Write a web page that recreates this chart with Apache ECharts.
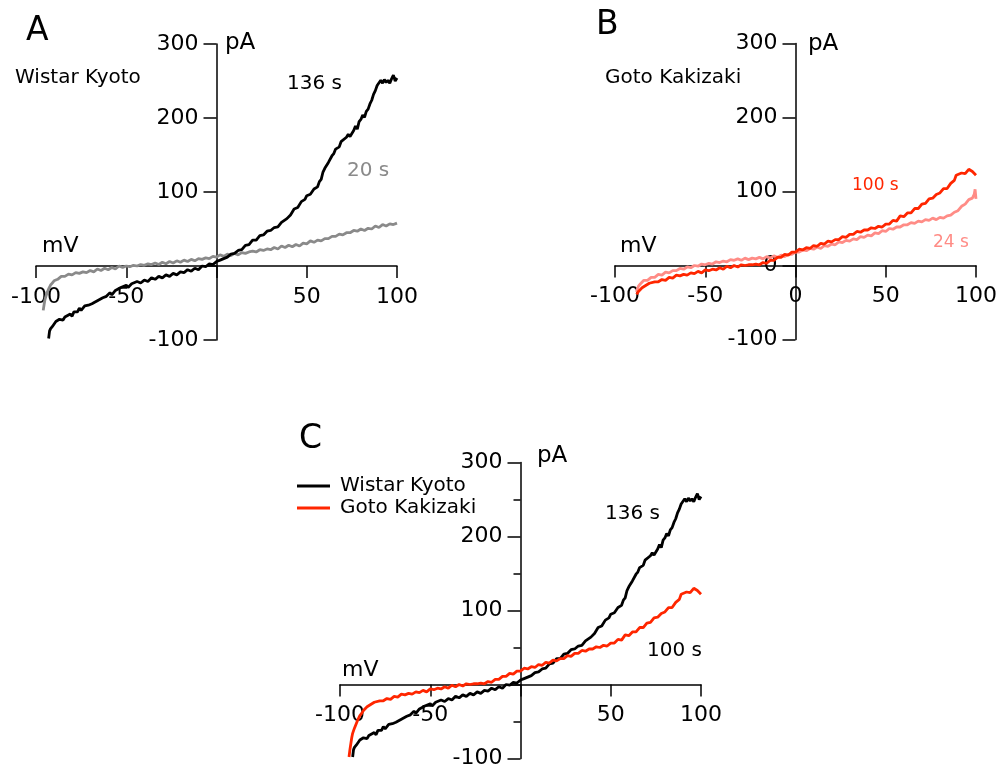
<!DOCTYPE html>
<html><head><meta charset="utf-8">
<script src="https://cdn.jsdelivr.net/npm/echarts@6/dist/echarts.min.js"></script>
<style>html,body{margin:0;padding:0;background:#fff}#c{width:999px;height:768px}</style>
</head><body><div id="c"></div>
<script>
const FONT = '"DejaVu Sans", sans-serif';

// Voltage axis (mV) and current axis (pA) ranges / tick steps
const mvRange = [-100, 100], mvStep = 50;
const paRange = [-100, 300], paStep = 100;

// Wistar Kyoto, 136 s  [mV, pA]
const wky136 = [[-93,-98],[-92.5,-88],[-92,-85],[-91,-82],[-89,-75],[-88,-77],[-87,-72],[-85,-73],[-84,-69],[-83,-71],[-81,-65],[-80,-68],[-79,-62],[-77,-62],[-76,-57],[-75,-60],[-73,-54],[-72,-56],[-71,-53],[-69,-51],[-68,-49],[-66,-47],[-65,-45],[-63,-43],[-62,-41],[-61,-41],[-59,-36],[-58,-39],[-56,-33],[-55,-35],[-53,-29],[-52,-31],[-50,-26],[-49,-29],[-47,-24],[-46,-26],[-44,-21],[-42,-23],[-40,-19],[-38,-21],[-36,-16],[-34,-18],[-32,-14],[-30,-16],[-28,-12],[-26,-14],[-24,-10],[-22,-12],[-20,-8],[-18,-9],[-16,-5],[-14,-7],[-12,-3],[-10,-5],[-8,0],[-6,-1],[-4,3],[-2,2],[0,6],[2,8],[4,10],[6,12],[8,16],[10,17],[12,21],[14,22],[16,28],[18,29],[20,35],[22,35],[24,41],[26,42],[28,47],[30,48],[32,52],[34,53],[36,59],[37,60],[39,64],[41,69],[43,77],[45,79],[47,87],[49,90],[50,95],[52,97],[54,104],[56,107],[57,114],[58,117],[59,127],[60,132],[62,140],[63,142],[64,149],[65,152],[66,158],[68,161],[69,168],[70,169],[72,174],[73,178],[74,175],[76,183],[77,189],[78,185],[79,195],[80,198],[81,204],[82,201],[83,209],[84,212],[85,219],[86,224],[87,232],[88,237],[89,244],[90,246],[91,251],[92,247],[93,252],[94,248],[95,251],[96,247],[97,253],[98,258],[99,250],[100,254]];

// Wistar Kyoto, 20 s
const wky20 = [[-96,-60],[-95.5,-52],[-95,-45],[-94,-37],[-93,-31],[-92,-26],[-91,-23],[-90,-20],[-88,-18],[-86,-14],[-84,-14],[-82,-11],[-80,-12],[-78,-9],[-76,-10],[-74,-8],[-72,-9],[-70,-6],[-68,-8],[-66,-4],[-64,-6],[-62,-3],[-60,-5],[-58,-2],[-56,-4],[-54,0],[-52,-2],[-50,0],[-48,-1],[-46,1],[-44,0],[-42,2],[-40,1],[-38,3],[-36,2],[-34,4],[-32,2],[-30,5],[-28,3],[-26,6],[-24,4],[-22,7],[-20,5],[-18,8],[-16,6],[-14,9],[-12,7],[-10,10],[-8,9],[-6,11],[-4,10],[-2,13],[0,12],[2,15],[4,13],[6,16],[8,14],[10,17],[12,15],[14,18],[16,17],[18,19],[20,20],[22,19],[24,22],[26,21],[28,23],[30,22],[32,25],[34,23],[36,27],[38,25],[40,28],[42,26],[44,29],[46,27],[48,31],[50,30],[52,34],[54,32],[56,35],[58,34],[60,37],[62,37],[64,40],[66,40],[68,43],[70,42],[72,45],[74,45],[76,48],[78,47],[80,50],[82,48],[84,51],[86,50],[88,54],[90,52],[92,56],[94,54],[96,57],[98,56],[100,58]];

// Goto Kakizaki, 100 s
const gk100 = [[-95,-98],[-94.5,-88],[-94,-80],[-93.5,-72],[-93,-66],[-92,-59],[-91,-53],[-90,-47],[-89,-42],[-88,-39],[-87,-35],[-86,-34],[-85,-30],[-84,-30],[-83,-27],[-82,-27],[-81,-24],[-80,-25],[-78,-22],[-76,-22],[-74,-19],[-72,-20],[-70,-16],[-68,-17],[-66,-13],[-64,-14],[-62,-12],[-60,-13],[-58,-10],[-56,-11],[-54,-8],[-52,-10],[-50,-6],[-48,-7],[-46,-5],[-44,-6],[-42,-3],[-40,-5],[-38,-1],[-36,-3],[-34,0],[-32,-2],[-30,1],[-28,0],[-26,1],[-24,1],[-22,2],[-20,1],[-18,4],[-16,3],[-14,7],[-12,7],[-10,11],[-8,11],[-6,15],[-4,14],[-2,18],[0,18],[2,22],[4,21],[6,24],[8,23],[10,27],[12,26],[14,30],[16,29],[18,33],[20,32],[22,35],[24,35],[26,39],[28,38],[30,42],[32,42],[34,46],[36,45],[38,48],[40,48],[42,51],[44,50],[46,53],[48,52],[50,56],[52,56],[54,61],[56,60],[58,67],[60,66],[62,71],[64,71],[66,77],[68,77],[70,83],[72,84],[74,90],[76,91],[78,96],[80,98],[82,104],[84,104],[86,111],[88,115],[89,122],[90,121],[92,125],[94,124],[96,130],[97,131],[98,127],[99,125],[100,122]];

// Goto Kakizaki, 24 s
const gk24 = [[-88,-36],[-87.5,-31],[-87,-28],[-86,-25],[-85,-24],[-84,-20],[-82,-20],[-80,-16],[-78,-16],[-76,-12],[-74,-13],[-72,-9],[-70,-10],[-68,-7],[-66,-7],[-64,-4],[-62,-5],[-60,-2],[-58,-3],[-56,0],[-54,-1],[-52,2],[-50,1],[-48,3],[-46,2],[-44,5],[-42,4],[-40,6],[-38,5],[-36,8],[-34,7],[-32,9],[-30,7],[-28,10],[-26,8],[-24,10],[-22,9],[-20,11],[-18,9],[-16,12],[-14,10],[-12,13],[-10,11],[-8,14],[-6,12],[-4,15],[-2,15],[0,18],[2,18],[4,21],[6,20],[8,23],[10,22],[12,25],[14,23],[16,27],[18,26],[20,29],[22,28],[24,32],[26,31],[28,34],[30,33],[32,36],[34,35],[36,39],[38,38],[40,41],[42,40],[44,44],[46,43],[48,47],[50,46],[52,50],[54,49],[56,52],[58,52],[60,55],[62,55],[64,58],[66,57],[68,60],[70,59],[72,62],[74,61],[76,64],[78,62],[80,65],[82,64],[84,67],[86,68],[88,72],[90,74],[92,80],[94,83],[96,89],[98,91],[99,96],[99.5,103],[100,90]];

const panelBStart = -88; // panel B trace starts here

const C_BLACK = '#000000', C_GRAY = '#8a8a8a', C_RED = '#ff2600', C_PINK = '#ff8c86';

// panel grids (pixel boxes of the full -100..100 mV / -100..300 pA ranges)
const grids = [
  { left: 36, top: 44, width: 361, height: 296 },
  { left: 615, top: 43.5, width: 361, height: 296 },
  { left: 340, top: 462.5, width: 361, height: 296 }
];
// offsets so that each axis sits on the other's zero
function zeroX(g) { return g.width * (0 - mvRange[0]) / (mvRange[1] - mvRange[0]); }
function zeroYfromBottom(g) { return g.height * (0 - paRange[0]) / (paRange[1] - paRange[0]); }

function xAx(gi, hideZero) {
  return { gridIndex: gi, type: 'value', min: mvRange[0], max: mvRange[1], interval: mvStep,
    position: 'bottom', offset: -zeroYfromBottom(grids[gi]),
    axisLine: { onZero: false, lineStyle: { color: '#000', width: 1.5 } },
    axisTick: { show: true, length: 12, lineStyle: { color: '#000', width: 1.5 } },
    splitLine: { show: false },
    axisLabel: { color: '#000', fontSize: 22, fontFamily: FONT, margin: 20,
      formatter: v => (hideZero && v === 0) ? '' : String(v) } };
}
function yAx(gi, hideZero, minor) {
  return { gridIndex: gi, type: 'value', min: paRange[0], max: paRange[1], interval: paStep,
    position: 'left', offset: -zeroX(grids[gi]),
    axisLine: { onZero: false, lineStyle: { color: '#000', width: 1.5 } },
    axisTick: { show: true, length: 13, lineStyle: { color: '#000', width: 1.5 } },
    minorTick: { show: !!minor, splitNumber: 2, length: 7, lineStyle: { color: '#000', width: 1.5 } },
    splitLine: { show: false },
    axisLabel: { color: '#000', fontSize: 22, fontFamily: FONT, margin: 18,
      formatter: v => (hideZero && v === 0) ? '' : String(v) } };
}
function line(name, xi, data, color) {
  return { name, type: 'line', xAxisIndex: xi, yAxisIndex: xi, data, showSymbol: false, symbol: 'none',
    lineStyle: { color, width: 2.8 }, itemStyle: { color }, clip: false, z: 3 };
}
function txt(text, x, y, size, color) {
  return { type: 'text', x, y, style: { text, fill: color || '#000', font: size + 'px ' + FONT,
    align: 'left', verticalAlign: 'middle', textAlign: 'left', textVerticalAlign: 'middle' } };
}

const chart = echarts.init(document.getElementById('c'));
chart.setOption({
  animation: false,
  backgroundColor: '#fff',
  grid: grids.map(g => Object.assign({ outerBoundsMode: 'none', containLabel: false }, g)),
  xAxis: [xAx(0, true), xAx(1, false), xAx(2, true)],
  yAxis: [yAx(0, true, false), yAx(1, false, false), yAx(2, true, true)],
  legend: {
    data: [{ name: 'Wistar Kyoto', icon: 'rect' }, { name: 'Goto Kakizaki', icon: 'rect' }],
    orient: 'vertical', left: 297, top: 475, padding: 0, itemGap: 0,
    itemWidth: 33, itemHeight: 3, selectedMode: false,
    textStyle: { color: '#000', fontSize: 20, fontFamily: FONT, lineHeight: 22, padding: [0, 0, 0, 5] }
  },
  series: [
    line('WKY 20 s', 0, wky20, C_GRAY),
    line('WKY 136 s', 0, wky136, C_BLACK),
    line('GK 24 s', 1, gk24, C_PINK),
    line('GK 100 s', 1, gk100.filter(p => p[0] >= panelBStart), C_RED),
    line('Wistar Kyoto', 2, wky136, C_BLACK),
    line('Goto Kakizaki', 2, gk100, C_RED)
  ],
  graphic: [
    txt('A', 26, 31, 33), txt('B', 596, 25, 33), txt('C', 299, 439, 33),
    txt('Wistar Kyoto', 15, 78, 20), txt('Goto Kakizaki', 605, 78, 20),
    txt('pA', 225, 43, 23), txt('pA', 808, 44, 23), txt('pA', 537, 456, 23),
    txt('mV', 42, 246, 22), txt('mV', 620, 246, 22), txt('mV', 342, 670, 22),
    txt('136 s', 287, 84, 20), txt('20 s', 347, 171, 20, C_GRAY),
    txt('100 s', 852, 186, 17, C_RED), txt('24 s', 933, 243, 17, C_PINK),
    txt('136 s', 605, 514, 20), txt('100 s', 647, 651, 20)
  ]
});
</script></body></html>
